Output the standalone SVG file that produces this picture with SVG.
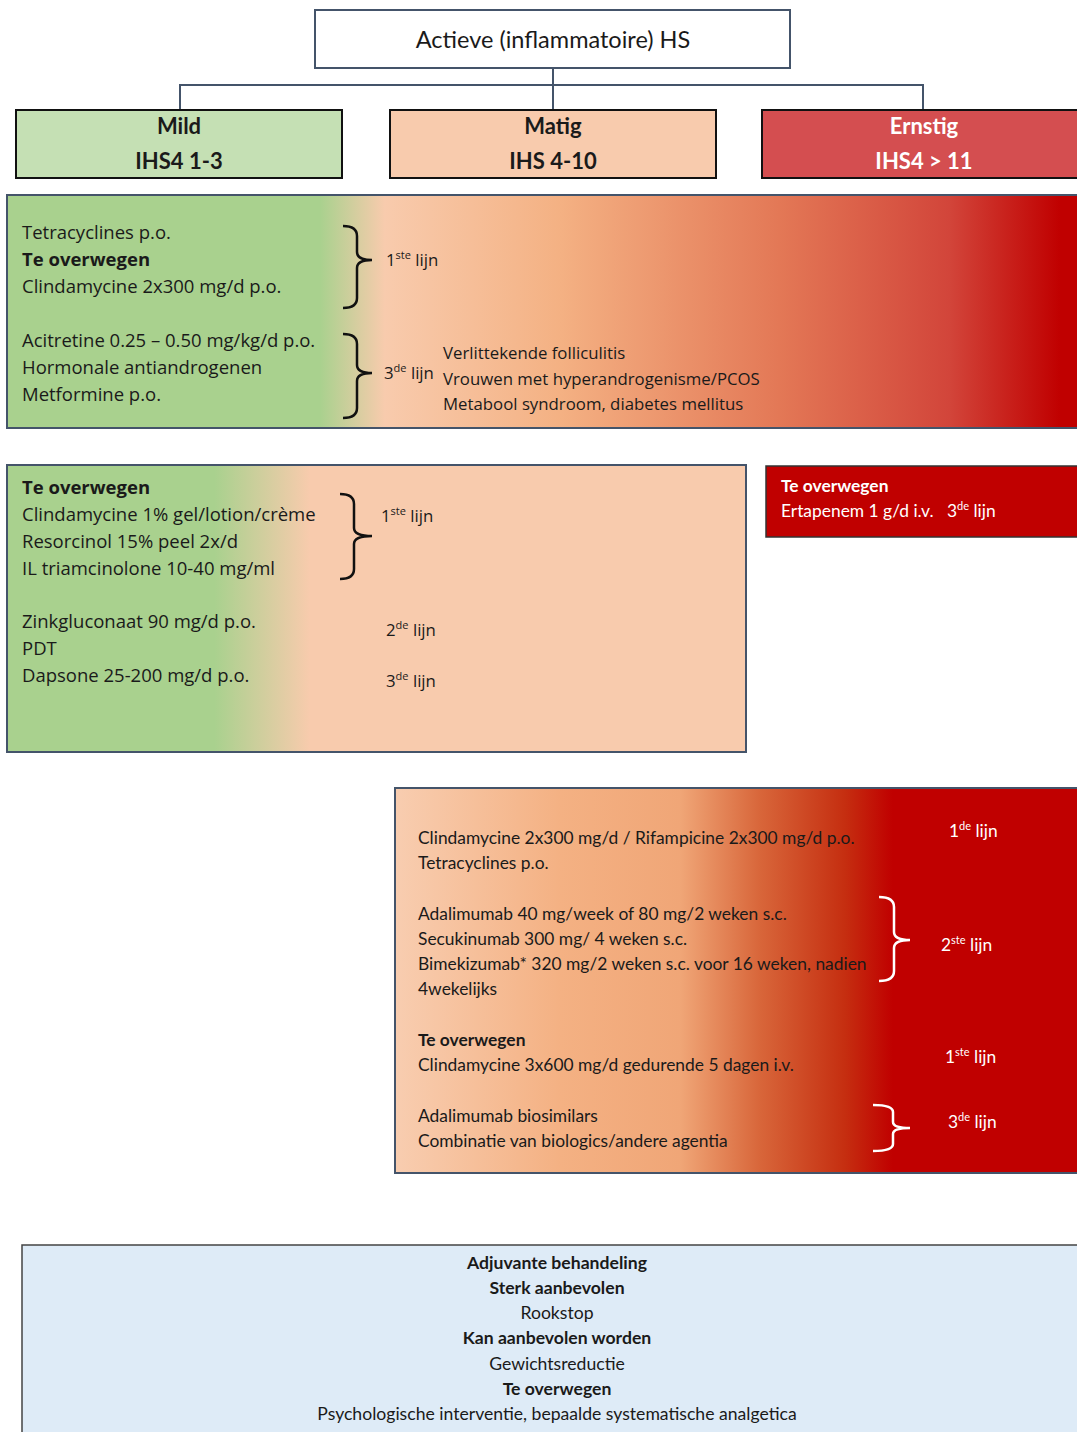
<svg xmlns="http://www.w3.org/2000/svg" width="1077" height="1432" viewBox="0 0 1077 1432">
<defs>
<style>
.t{font-family:"Open Sans","Liberation Sans",sans-serif;font-size:18.5px;fill:#1a1a1a}
.r{font-family:"Open Sans","Liberation Sans",sans-serif;font-size:16.8px;fill:#1a1a1a}
.c{font-family:Lato,"Open Sans","Liberation Sans",sans-serif;font-size:17.4px;fill:#1a1a1a}
.a{font-family:Lato,"Open Sans","Liberation Sans",sans-serif;font-size:17.6px;fill:#1a1a1a}
.b{font-weight:bold}
.w{fill:#ffffff}
.hd{font-family:Lato,"Open Sans","Liberation Sans",sans-serif;font-size:22px;font-weight:bold;text-anchor:middle}
.mid{text-anchor:middle}
.sup{font-size:11px}
.brace{fill:none;stroke:#111;stroke-width:2.5}
.bracew{fill:none;stroke:#fff;stroke-width:2.5}
.conn{fill:none;stroke:#44546A;stroke-width:2}
</style>
<linearGradient id="g1" gradientUnits="userSpaceOnUse" x1="7" y1="0" x2="1077" y2="0">
<stop offset="0" stop-color="#A9D18E"/>
<stop offset="0.2925" stop-color="#A9D18E"/>
<stop offset="0.353" stop-color="#F8CBAD"/>
<stop offset="0.517" stop-color="#F4B183"/>
<stop offset="0.722" stop-color="#E37856"/>
<stop offset="0.881" stop-color="#D2453A"/>
<stop offset="0.984" stop-color="#C00000"/>
<stop offset="1" stop-color="#C00000"/>
</linearGradient>
<linearGradient id="g2" gradientUnits="userSpaceOnUse" x1="7" y1="0" x2="746" y2="0">
<stop offset="0" stop-color="#A9D18E"/>
<stop offset="0.281" stop-color="#A9D18E"/>
<stop offset="0.41" stop-color="#F8CBAD"/>
<stop offset="1" stop-color="#F8CBAD"/>
</linearGradient>
<linearGradient id="g3" gradientUnits="userSpaceOnUse" x1="395" y1="0" x2="1077" y2="0">
<stop offset="0" stop-color="#F8CDB0"/>
<stop offset="0.242" stop-color="#F4B183"/>
<stop offset="0.418" stop-color="#F0A677"/>
<stop offset="0.535" stop-color="#D8663A"/>
<stop offset="0.66" stop-color="#C52E10"/>
<stop offset="0.73" stop-color="#C00000"/>
<stop offset="1" stop-color="#C00000"/>
</linearGradient>
</defs>
<rect width="1077" height="1432" fill="#ffffff"/>

<g id="connectors">
<path class="conn" d="M553,68 V85 M180,110 V85 H923 V110 M553,85 V110"/>
</g>

<g id="root">
<rect x="315" y="10" width="475" height="58" fill="#ffffff" stroke="#44546A" stroke-width="2"/>
<text class="c mid" x="553" y="48" style="font-size:23.5px">Actieve (inflammatoire) HS</text>
</g>

<g id="mild">
<rect x="16" y="110" width="326" height="68" fill="#C5E0B4" stroke="#111" stroke-width="2"/>
<text class="hd" x="179" y="134" fill="#1a1a1a">Mild</text>
<text class="hd" x="179" y="169" fill="#1a1a1a">IHS4 1-3</text>
</g>

<g id="matig">
<rect x="390" y="110" width="326" height="68" fill="#F8CBAD" stroke="#111" stroke-width="2"/>
<text class="hd" x="553" y="134" fill="#1a1a1a">Matig</text>
<text class="hd" x="553" y="169" fill="#1a1a1a">IHS 4-10</text>
</g>

<g id="ernstig">
<rect x="762" y="110" width="330" height="68" fill="#D44E50" stroke="#111" stroke-width="2"/>
<text class="hd" x="924" y="134" fill="#ffffff">Ernstig</text>
<text class="hd" x="924" y="169" fill="#ffffff">IHS4 &gt; 11</text>
</g>

<g id="panel-mild">
<rect x="7" y="195" width="1080" height="233" fill="url(#g1)" stroke="#44546A" stroke-width="2"/>
<text class="t" x="22" y="239">Tetracyclines p.o.</text>
<text class="t b" x="22" y="266">Te overwegen</text>
<text class="t" x="22" y="293">Clindamycine 2x300 mg/d p.o.</text>
<text class="t" x="22" y="347">Acitretine 0.25 – 0.50 mg/kg/d p.o.</text>
<text class="t" x="22" y="374">Hormonale antiandrogenen</text>
<text class="t" x="22" y="401">Metformine p.o.</text>
<path class="brace" d="M343,226 Q357,226 357,236 V252 Q357,260 372,260 Q357,260 357,268 V298 Q357,308 343,308"/>
<path class="brace" d="M343,334 Q357,334 357,344 V365 Q357,373 372,373 Q357,373 357,381 V408 Q357,418 343,418"/>
<text class="r" x="386" y="266">1<tspan class="sup" dy="-7">ste</tspan><tspan dy="7"> lijn</tspan></text>
<text class="r" x="384" y="379">3<tspan class="sup" dy="-7">de</tspan><tspan dy="7"> lijn</tspan></text>
<text class="r" x="443" y="359">Verlittekende folliculitis</text>
<text class="r" x="443" y="385">Vrouwen met hyperandrogenisme/PCOS</text>
<text class="r" x="443" y="410">Metabool syndroom, diabetes mellitus</text>
</g>

<g id="panel-matig">
<rect x="7" y="465" width="739" height="287" fill="url(#g2)" stroke="#44546A" stroke-width="2"/>
<text class="t b" x="22" y="494">Te overwegen</text>
<text class="t" x="22" y="521">Clindamycine 1% gel/lotion/crème</text>
<text class="t" x="22" y="548">Resorcinol 15% peel 2x/d</text>
<text class="t" x="22" y="575">IL triamcinolone 10-40 mg/ml</text>
<text class="t" x="22" y="628">Zinkgluconaat 90 mg/d p.o.</text>
<text class="t" x="22" y="655">PDT</text>
<text class="t" x="22" y="682">Dapsone 25-200 mg/d p.o.</text>
<path class="brace" d="M340,494 Q354,494 354,504 V528 Q354,536 372,536 Q354,536 354,544 V569 Q354,579 340,579"/>
<text class="r" x="381" y="522">1<tspan class="sup" dy="-7">ste</tspan><tspan dy="7"> lijn</tspan></text>
<text class="r" x="386" y="636">2<tspan class="sup" dy="-7">de</tspan><tspan dy="7"> lijn</tspan></text>
<text class="r" x="386" y="687">3<tspan class="sup" dy="-7">de</tspan><tspan dy="7"> lijn</tspan></text>
</g>

<g id="ernstig-iv">
<rect x="766" y="466" width="321" height="71" fill="#C00000" stroke="#333" stroke-width="1.5"/>
<text class="c b w" x="781" y="492">Te overwegen</text>
<text class="c w" x="781" y="517">Ertapenem 1 g/d i.v.</text>
<text class="c w" x="947" y="517">3<tspan class="sup" dy="-7">de</tspan><tspan dy="7"> lijn</tspan></text>
</g>

<g id="panel-ernstig">
<rect x="395" y="788" width="692" height="385" fill="url(#g3)" stroke="#44546A" stroke-width="2"/>
<text class="c" x="418" y="844">Clindamycine 2x300 mg/d / Rifampicine 2x300 mg/d p.o.</text>
<text class="c" x="418" y="869">Tetracyclines p.o.</text>
<text class="c" x="418" y="920">Adalimumab 40 mg/week of 80 mg/2 weken s.c.</text>
<text class="c" x="418" y="945">Secukinumab 300 mg/ 4 weken s.c.</text>
<text class="c" x="418" y="970">Bimekizumab* 320 mg/2 weken s.c. voor 16 weken, nadien</text>
<text class="c" x="418" y="995">4wekelijks</text>
<text class="c b" x="418" y="1046">Te overwegen</text>
<text class="c" x="418" y="1071">Clindamycine 3x600 mg/d gedurende 5 dagen i.v.</text>
<text class="c" x="418" y="1122">Adalimumab biosimilars</text>
<text class="c" x="418" y="1147">Combinatie van biologics/andere agentia</text>
<path class="bracew" d="M879,897 Q894,897 894,907 V932 Q894,940 910,940 Q894,940 894,948 V971 Q894,981 879,981"/>
<path class="bracew" d="M873,1105 Q893,1105 893,1112 V1122 Q893,1128 910,1128 Q893,1128 893,1134 V1144 Q893,1151 873,1151"/>
<text class="c w" x="949" y="837">1<tspan class="sup" dy="-7">de</tspan><tspan dy="7"> lijn</tspan></text>
<text class="c w" x="941" y="951">2<tspan class="sup" dy="-7">ste</tspan><tspan dy="7"> lijn</tspan></text>
<text class="c w" x="945" y="1063">1<tspan class="sup" dy="-7">ste</tspan><tspan dy="7"> lijn</tspan></text>
<text class="c w" x="948" y="1128">3<tspan class="sup" dy="-7">de</tspan><tspan dy="7"> lijn</tspan></text>
</g>

<g id="adjuvant">
<rect x="22" y="1245" width="1070" height="200" fill="#DEEBF7" stroke="#444" stroke-width="1.5"/>
<text class="a b mid" x="557" y="1269">Adjuvante behandeling</text>
<text class="a b mid" x="557" y="1294">Sterk aanbevolen</text>
<text class="a mid" x="557" y="1319">Rookstop</text>
<text class="a b mid" x="557" y="1344">Kan aanbevolen worden</text>
<text class="a mid" x="557" y="1370">Gewichtsreductie</text>
<text class="a b mid" x="557" y="1395">Te overwegen</text>
<text class="a mid" x="557" y="1420">Psychologische interventie, bepaalde systematische analgetica</text>
</g>
</svg>
